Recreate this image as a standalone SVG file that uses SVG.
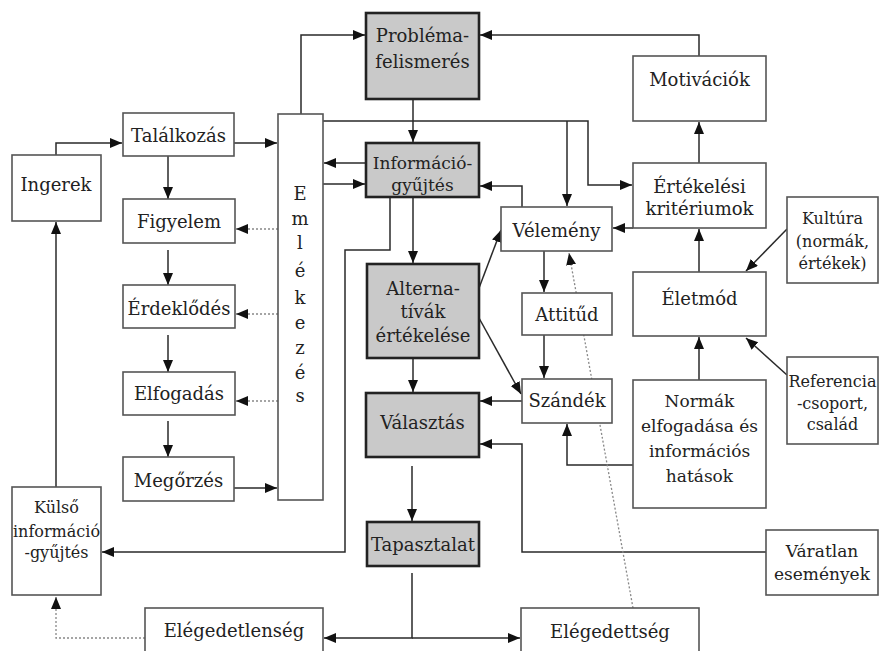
<svg xmlns="http://www.w3.org/2000/svg" width="883" height="651" viewBox="0 0 883 651">
<style>
.w{fill:#fff;stroke:#555;stroke-width:1.6}
.g{fill:#c9c9c9;stroke:#222;stroke-width:2.6}
text{font-family:"DejaVu Serif",serif;font-size:18px;fill:#222;text-anchor:middle}
.s{font-size:17px}
.t{font-size:16px}
.c{fill:none;stroke:#2a2a2a;stroke-width:1.5}
.d{fill:none;stroke:#888;stroke-width:1.3;stroke-dasharray:2 2}
</style>
<defs>
<marker id="a" markerUnits="userSpaceOnUse" markerWidth="13" markerHeight="11" refX="12" refY="5" orient="auto"><path d="M0,0 L12,5 L0,10 z" fill="#111"/></marker>
</defs>
<rect width="883" height="651" fill="#fff"/>
<g id="connectors">
<path class="c" d="M56,155 V143 H122" marker-end="url(#a)"/>
<path class="c" d="M234,143 H277" marker-end="url(#a)"/>
<path class="c" d="M168,156 V199" marker-end="url(#a)"/>
<path class="c" d="M168,250 V285" marker-end="url(#a)"/>
<path class="c" d="M168,335 V372" marker-end="url(#a)"/>
<path class="c" d="M168,421 V457" marker-end="url(#a)"/>
<path class="c" d="M234,488 H277" marker-end="url(#a)"/>
<path class="d" d="M278,229 H236" marker-end="url(#a)"/>
<path class="d" d="M278,314 H236" marker-end="url(#a)"/>
<path class="d" d="M278,401 H236" marker-end="url(#a)"/>
<path class="c" d="M301,122 V35 H365" marker-end="url(#a)"/>
<path class="c" d="M699,56 V35 H480" marker-end="url(#a)"/>
<path class="c" d="M413,99 V142" marker-end="url(#a)"/>
<path class="c" d="M323,121 H588 V185 H632" marker-end="url(#a)"/>
<path class="c" d="M567,121 V206" marker-end="url(#a)"/>
<path class="c" d="M366,163 H324" marker-end="url(#a)"/>
<path class="c" d="M323,184 H365" marker-end="url(#a)"/>
<path class="c" d="M522,207 V186 H480" marker-end="url(#a)"/>
<path class="c" d="M699,163 V122" marker-end="url(#a)"/>
<path class="c" d="M633,228 H613" marker-end="url(#a)"/>
<path class="c" d="M413,197 V263" marker-end="url(#a)"/>
<path class="c" d="M390,197 V250 H345 V552 H102" marker-end="url(#a)"/>
<path class="c" d="M479,288 L501,230" marker-end="url(#a)"/>
<path class="c" d="M479,318 L521,394" marker-end="url(#a)"/>
<path class="c" d="M544,251 V292" marker-end="url(#a)"/>
<path class="c" d="M544,335 V378" marker-end="url(#a)"/>
<path class="c" d="M522,401 H480" marker-end="url(#a)"/>
<path class="c" d="M413,358 V392" marker-end="url(#a)"/>
<path class="c" d="M766,552 H522 V444 H480" marker-end="url(#a)"/>
<path class="c" d="M633,465 H567 V424" marker-end="url(#a)"/>
<path class="c" d="M699,380 V337" marker-end="url(#a)"/>
<path class="c" d="M699,272 V229" marker-end="url(#a)"/>
<path class="c" d="M787,229 L746,271" marker-end="url(#a)"/>
<path class="c" d="M787,375 L746,338" marker-end="url(#a)"/>
<path class="c" d="M412,466 V521" marker-end="url(#a)"/>
<path class="c" d="M412,573 V638 H324" marker-end="url(#a)"/>
<path class="c" d="M412,638 H520" marker-end="url(#a)"/>
<path class="d" d="M145,638 H56 V597" marker-end="url(#a)"/>
<path class="d" d="M633,608 L569,253" marker-end="url(#a)"/>
<path class="c" d="M56,487 V222" marker-end="url(#a)"/>
</g>
<g id="ingerek"><rect class="w" x="12" y="155" width="89" height="66"/><text x="56" y="191">Ingerek</text></g>
<g id="talalkozas"><rect class="w" x="123" y="113" width="111" height="43"/><text x="178.5" y="142">Találkozás</text></g>
<g id="figyelem"><rect class="w" x="123" y="199" width="112" height="44"/><text x="179" y="228">Figyelem</text></g>
<g id="erdeklodes"><rect class="w" x="123" y="285" width="112" height="43"/><text x="179" y="315">Érdeklődés</text></g>
<g id="elfogadas"><rect class="w" x="123" y="372" width="112" height="43"/><text x="179" y="400">Elfogadás</text></g>
<g id="megorzes"><rect class="w" x="123" y="457" width="111" height="44"/><text x="178.5" y="487">Megőrzés</text></g>
<g id="emlekezes"><rect class="w" x="278" y="114" width="45" height="386"/>
<text x="300" y="200">E</text><text x="300" y="225">m</text><text x="300" y="249">l</text><text x="300" y="277">é</text><text x="300" y="304">k</text><text x="300" y="329">e</text><text x="300" y="354">z</text><text x="300" y="379">é</text><text x="300" y="402">s</text></g>
<g id="problemafelismeres"><rect class="g" x="366" y="13" width="113" height="86"/><text x="422.5" y="42">Probléma-</text><text x="422.5" y="68">felismerés</text></g>
<g id="informaciogyujtes"><rect class="g" x="366" y="143" width="113" height="54"/><text class="s" x="422.5" y="169">Információ-</text><text class="s" x="422.5" y="191">gyűjtés</text></g>
<g id="alternativak"><rect class="g" x="367" y="264" width="112" height="94"/><text x="423" y="295">Alterna-</text><text x="423" y="318">tívák</text><text x="423" y="342">értékelése</text></g>
<g id="valasztas"><rect class="g" x="366" y="393" width="113" height="64"/><text x="422.5" y="429">Választás</text></g>
<g id="tapasztalat"><rect class="g" x="367" y="522" width="112" height="44"/><text x="423" y="551">Tapasztalat</text></g>
<g id="motivaciok"><rect class="w" x="633" y="56" width="133" height="65"/><text x="699.5" y="86">Motivációk</text></g>
<g id="ertekelesi"><rect class="w" x="633" y="163" width="133" height="65"/><text x="699.5" y="193">Értékelési</text><text x="699.5" y="215">kritériumok</text></g>
<g id="velemeny"><rect class="w" x="501" y="207" width="111" height="44"/><text x="556.5" y="237">Vélemény</text></g>
<g id="attitud"><rect class="w" x="522" y="293" width="90" height="42"/><text x="567" y="321">Attitűd</text></g>
<g id="szandek"><rect class="w" x="522" y="379" width="90" height="44"/><text x="567" y="407">Szándék</text></g>
<g id="eletmod"><rect class="w" x="633" y="272" width="133" height="64"/><text x="699.5" y="305">Életmód</text></g>
<g id="normak"><rect class="w" x="633" y="380" width="133" height="128"/><text class="s" x="699.5" y="407">Normák</text><text class="s" x="699.5" y="432">elfogadása és</text><text class="s" x="699.5" y="457">információs</text><text class="s" x="699.5" y="482">hatások</text></g>
<g id="kultura"><rect class="w" x="787" y="197" width="91" height="86"/><text class="t" x="832.5" y="224">Kultúra</text><text class="t" x="832.5" y="247">(normák,</text><text class="t" x="832.5" y="269">értékek)</text></g>
<g id="referencia"><rect class="w" x="787" y="357" width="91" height="87"/><text class="t" x="832.5" y="387">Referencia</text><text class="t" x="832.5" y="409">-csoport,</text><text class="t" x="832.5" y="430">család</text></g>
<g id="varatlan"><rect class="w" x="766" y="530" width="112" height="65"/><text class="s" x="822" y="557">Váratlan</text><text class="s" x="822" y="580">események</text></g>
<g id="kulso"><rect class="w" x="12" y="487" width="89" height="108"/><text class="t" x="56.5" y="513">Külső</text><text class="t" x="56.5" y="537">információ</text><text class="t" x="56.5" y="558">-gyűjtés</text></g>
<g id="elegedetlenseg"><rect class="w" x="145" y="608" width="178" height="60"/><text x="234" y="637">Elégedetlenség</text></g>
<g id="elegedettseg"><rect class="w" x="521" y="608" width="178" height="60"/><text x="610" y="638">Elégedettség</text></g>
</svg>
